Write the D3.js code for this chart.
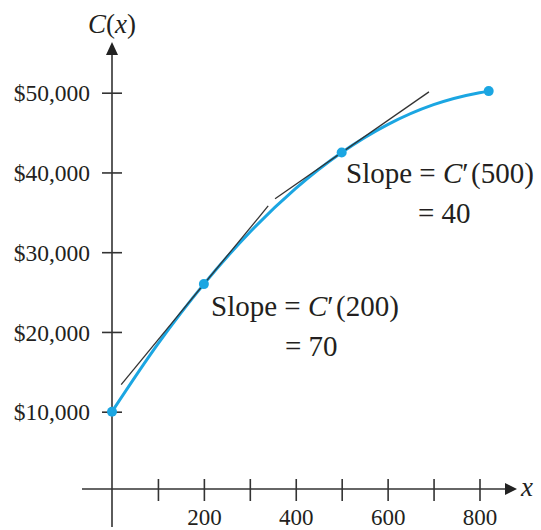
<!DOCTYPE html>
<html>
<head>
<meta charset="utf-8">
<script src="https://cdn.jsdelivr.net/npm/d3@7"></script>
<style>
  body { margin: 0; background: #fff; }
  text { font-family: "Liberation Serif", "Times New Roman", serif; fill: #231f20; }
</style>
</head>
<body>
<div id="chart"></div>
<script>
// Cost curve
const curveX = [0, 100, 200, 300, 400, 500, 600, 700, 800, 820];
const curveY = [10000, 18500, 26000, 32500, 38000, 42500, 46000, 48500, 50000, 50200];

// Marked points
const dotX = [0, 200, 500, 820];
const dotY = [10000, 26000, 42500, 50200];

// Tangent lines
const tangentAt = [200, 500];
const tangentValue = [26000, 42500];
const tangentSlope = [70, 40];
const tangentFrom = [20, 355];
const tangentTo = [340, 690];

// Axes
const yTicks = [10000, 20000, 30000, 40000, 50000];
const xTicks = [100, 200, 300, 400, 500, 600, 700, 800];
const xLabels = [200, 400, 600, 800];

const width = 541, height = 530;
const axisY = 489;
const axisColor = '#333';

const svg = d3.select('#chart')
    .append('svg')
    .attr('width', width)
    .attr('height', height);

const x = d3.scaleLinear().domain([0, 800]).range([112, 479.5]);
const y = d3.scaleLinear().domain([10000, 50000]).range([411.7, 92.7]);

// x axis line + arrow
svg.append('line')
    .attr('x1', 82).attr('x2', 506)
    .attr('y1', axisY).attr('y2', axisY)
    .attr('stroke', axisColor).attr('stroke-width', 1.6);
svg.append('path')
    .attr('d', `M505,${axisY - 6}L517,${axisY}L505,${axisY + 6}Z`)
    .attr('fill', '#222');

// y axis line + arrow
svg.append('line')
    .attr('x1', x(0)).attr('x2', x(0))
    .attr('y1', 54).attr('y2', 527)
    .attr('stroke', axisColor).attr('stroke-width', 1.6);
svg.append('path')
    .attr('d', `M${x(0) - 6},55L${x(0)},42L${x(0) + 6},55Z`)
    .attr('fill', '#222');

// x ticks
const xAxis = svg.append('g')
    .attr('transform', `translate(0,${axisY})`)
    .call(d3.axisBottom(x)
        .tickValues(xTicks)
        .tickSize(12)
        .tickFormat(d => xLabels.includes(d) ? d : ''));
xAxis.select('.domain').remove();
xAxis.selectAll('.tick line')
    .attr('y1', -10).attr('y2', 12)
    .attr('stroke', axisColor).attr('stroke-width', 1.6);
xAxis.selectAll('.tick text')
    .attr('dy', null)
    .attr('y', 36)
    .style('font-size', '23px')
    .style('font-family', '"Liberation Serif", serif')
    .attr('fill', '#231f20');

// y ticks
const yAxis = svg.append('g')
    .attr('transform', `translate(${x(0)},0)`)
    .call(d3.axisLeft(y)
        .tickValues(yTicks)
        .tickSize(10)
        .tickFormat(d => '$' + d3.format(',')(d)));
yAxis.select('.domain').remove();
yAxis.selectAll('.tick line')
    .attr('x1', -10).attr('x2', 10)
    .attr('stroke', axisColor).attr('stroke-width', 1.6);
yAxis.selectAll('.tick text')
    .attr('x', -22)
    .attr('dy', '0.35em')
    .style('font-size', '23.5px')
    .style('font-family', '"Liberation Serif", serif')
    .attr('fill', '#231f20');

// axis titles
const cLabel = svg.append('text')
    .attr('x', x(0)).attr('y', 33)
    .attr('text-anchor', 'middle')
    .style('font-size', '27px');
cLabel.append('tspan').style('font-style', 'italic').text('C');
cLabel.append('tspan').text('(');
cLabel.append('tspan').style('font-style', 'italic').text('x');
cLabel.append('tspan').text(')');

svg.append('text')
    .attr('x', 521).attr('y', 496)
    .style('font-size', '27px')
    .style('font-style', 'italic')
    .text('x');

// curve
const curveData = curveX.map((d, i) => ({ x: d, y: curveY[i] }));
const line = d3.line()
    .x(d => x(d.x))
    .y(d => y(d.y))
    .curve(d3.curveMonotoneX);

svg.append('path')
    .datum(curveData)
    .attr('d', line)
    .attr('fill', 'none')
    .attr('stroke', '#1ba6e2')
    .attr('stroke-width', 3);

// tangent lines
tangentAt.forEach((a, i) => {
    const f = t => tangentValue[i] + tangentSlope[i] * (t - a);
    svg.append('line')
        .attr('x1', x(tangentFrom[i])).attr('y1', y(f(tangentFrom[i])))
        .attr('x2', x(tangentTo[i])).attr('y2', y(f(tangentTo[i])))
        .attr('stroke', '#333')
        .attr('stroke-width', 1.3);
});

// dots
svg.selectAll('.dot')
    .data(dotX.map((d, i) => ({ x: d, y: dotY[i] })))
    .enter()
    .append('circle')
    .attr('class', 'dot')
    .attr('cx', d => x(d.x))
    .attr('cy', d => y(d.y))
    .attr('r', 5)
    .attr('fill', '#1ba6e2');

// slope annotations
function slopeLabel(px, py, at, slope, eqX) {
    const t = svg.append('text')
        .attr('x', px).attr('y', py)
        .style('font-size', '29px');
    t.append('tspan').text('Slope = ');
    t.append('tspan').style('font-style', 'italic').text('C');
    t.append('tspan').text('\u2032\u200a(' + at + ')');
    svg.append('text')
        .attr('x', eqX).attr('y', py + 40)
        .style('font-size', '29px')
        .text('= ' + slope);
}
slopeLabel(211, 316, tangentAt[0], tangentSlope[0], 285);
slopeLabel(346, 183, tangentAt[1], tangentSlope[1], 418);
</script>
</body>
</html>
